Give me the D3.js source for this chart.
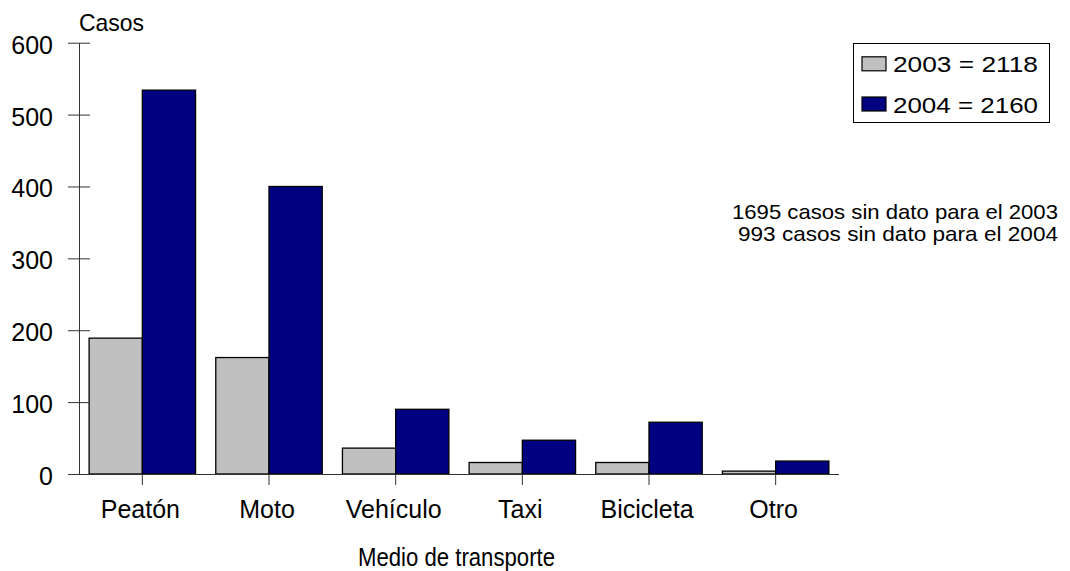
<!DOCTYPE html>
<html>
<head>
<meta charset="utf-8">
<script src="https://cdn.jsdelivr.net/npm/d3@7"></script>
<style>
  html, body { margin: 0; padding: 0; background: #fff; }
  svg { display: block; font-family: "Liberation Sans", Arial, sans-serif; }
</style>
</head>
<body>
<svg id="chart" width="1070" height="571"></svg>
<script>
const categories = ["Peatón", "Moto", "Vehículo", "Taxi", "Bicicleta", "Otro"];
const seriesNames = ["2003", "2004"];
const values2003 = [189, 162, 36, 16, 16, 4];
const values2004 = [534, 400, 90, 47, 72, 18];
const legendLabels = ["2003 = 2118", "2004 = 2160"];
const yTicks = [0, 100, 200, 300, 400, 500, 600];
const notes = ["1695 casos sin dato para el 2003", "993 casos sin dato para el 2004"];
const colors = ["#C0C0C0", "#000080"];

const svg = d3.select("#chart");

const x0 = d3.scaleBand().domain(categories).range([79, 839]).padding(0);
const x1 = d3.scaleBand().domain(seriesNames).range([0, x0.bandwidth()]).paddingInner(0).paddingOuter(0.19);
const y = d3.scaleLinear().domain([0, 600]).range([474, 42.7]);

const data = categories.map((c, i) => ({ cat: c, vals: [values2003[i], values2004[i]] }));

// bars
const groups = svg.append("g").selectAll("g").data(data).join("g")
  .attr("transform", d => `translate(${x0(d.cat)},0)`);
groups.selectAll("rect").data(d => d.vals.map((v, j) => ({ s: seriesNames[j], v, j })))
  .join("rect")
  .attr("x", d => x1(d.s))
  .attr("y", d => y(d.v))
  .attr("width", x1.bandwidth())
  .attr("height", d => y(0) - y(d.v))
  .attr("fill", d => colors[d.j])
  .attr("stroke", "#000")
  .attr("stroke-width", 1.3);

// y axis
const yAxis = d3.axisLeft(y).tickValues(yTicks).tickSize(0).tickFormat("");
const ya = svg.append("g").attr("transform", "translate(79,0)").call(yAxis);
ya.select(".domain").attr("stroke", "#333").attr("stroke-width", 1);
ya.selectAll(".tick").append("line")
  .attr("x1", -11).attr("x2", 11).attr("stroke", "#333").attr("stroke-width", 1);
ya.selectAll(".tick").append("text")
  .attr("x", -26).attr("y", 10.5)
  .attr("text-anchor", "end")
  .attr("fill", "#000")
  .style("font-size", "25px")
  .style("font-family", '"Liberation Sans", Arial, sans-serif')
  .text(d => d);

// x axis
const xAxis = d3.axisBottom(x0).tickSize(11).tickSizeOuter(0);
const xa = svg.append("g").attr("transform", `translate(0,${y(0)})`).call(xAxis);
xa.select(".domain").attr("d", `M68,0.5H839`).attr("stroke", "#333");
xa.selectAll(".tick line").attr("stroke", "#333");
xa.selectAll(".tick text")
  .attr("x", -2)
  .attr("y", 44).attr("dy", null)
  .attr("fill", "#000")
  .style("font-size", "25px")
  .style("font-family", '"Liberation Sans", Arial, sans-serif');

// titles
svg.append("text").attr("x", 79).attr("y", 31)
  .attr("textLength", 65).attr("lengthAdjust", "spacingAndGlyphs")
  .style("font-size", "24px").text("Casos");

svg.append("text").attr("x", 358).attr("y", 566)
  .attr("textLength", 197).attr("lengthAdjust", "spacingAndGlyphs")
  .style("font-size", "26px").text("Medio de transporte");

// notes
const noteX = [732, 738], noteY = [219, 240.5], noteW = [326, 320];
svg.selectAll("text.note").data(notes).join("text").attr("class", "note")
  .attr("x", (d, i) => noteX[i]).attr("y", (d, i) => noteY[i])
  .attr("textLength", (d, i) => noteW[i]).attr("lengthAdjust", "spacingAndGlyphs")
  .style("font-size", "21px").text(d => d);

// legend
const lg = svg.append("g");
lg.append("rect").attr("x", 853.5).attr("y", 43.5).attr("width", 196).attr("height", 79)
  .attr("fill", "#fff").attr("stroke", "#000").attr("stroke-width", 1);
const rowY = [72.3, 112.5];
legendLabels.forEach((lab, i) => {
  lg.append("rect").attr("x", 862).attr("y", rowY[i] - 15.5).attr("width", 24).attr("height", 14)
    .attr("fill", colors[i]).attr("stroke", "#000").attr("stroke-width", 1.2);
  lg.append("text").attr("x", 893).attr("y", rowY[i])
    .attr("textLength", 145).attr("lengthAdjust", "spacingAndGlyphs")
    .style("font-size", "22px").text(lab);
});
</script>
</body>
</html>
